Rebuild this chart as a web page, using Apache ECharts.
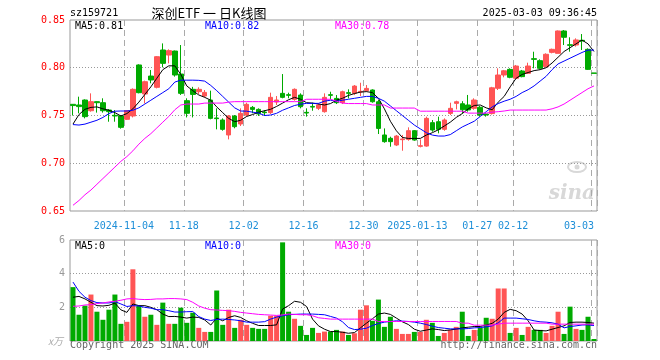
<!DOCTYPE html>
<html><head><meta charset="utf-8">
<script src="https://cdn.jsdelivr.net/npm/echarts@6/dist/echarts.min.js"></script>
<style>html,body{margin:0;padding:0;background:#fff}#c{width:660px;height:360px}</style>
</head><body><div id="c"></div>
<script>
const dates = ['2024-10-22','2024-10-23','2024-10-24','2024-10-25','2024-10-28','2024-10-29','2024-10-30','2024-10-31','2024-11-01',
'2024-11-04','2024-11-05','2024-11-06','2024-11-07','2024-11-08','2024-11-11','2024-11-12','2024-11-13','2024-11-14','2024-11-15',
'2024-11-18','2024-11-19','2024-11-20','2024-11-21','2024-11-22','2024-11-25','2024-11-26','2024-11-27','2024-11-28','2024-11-29',
'2024-12-02','2024-12-03','2024-12-04','2024-12-05','2024-12-06','2024-12-09','2024-12-10','2024-12-11','2024-12-12','2024-12-13',
'2024-12-16','2024-12-17','2024-12-18','2024-12-19','2024-12-20','2024-12-23','2024-12-24','2024-12-25','2024-12-26','2024-12-27',
'2024-12-30','2024-12-31','2025-01-02','2025-01-03','2025-01-06','2025-01-07','2025-01-08','2025-01-09','2025-01-10',
'2025-01-13','2025-01-14','2025-01-15','2025-01-16','2025-01-17','2025-01-20','2025-01-21','2025-01-22','2025-01-23','2025-01-24',
'2025-01-27','2025-02-05','2025-02-06','2025-02-07','2025-02-10','2025-02-11','2025-02-12','2025-02-13','2025-02-14',
'2025-02-17','2025-02-18','2025-02-19','2025-02-20','2025-02-21','2025-02-24','2025-02-25','2025-02-26','2025-02-27','2025-02-28',
'2025-03-03'];

const tickDates = ['2024-11-04','2024-11-18','2024-12-02','2024-12-16','2024-12-30','2025-01-13','2025-01-27','2025-02-12','2025-03-03'];
const tickLabels = ['2024-11-04','11-18','12-02','12-16','12-30','2025-01-13','01-27','02-12','03-03'];

const opens = [0.7617,0.7610,0.7662,0.7550,0.7645,0.7634,0.7557,0.7502,0.7495,0.7460,
0.7495,0.8029,0.7725,0.7913,0.7795,0.8186,0.8133,0.8175,0.7934,0.7655,
0.7774,0.7749,0.7704,0.7662,0.7474,0.7453,0.7296,0.7495,0.7411,0.7505,
0.7585,0.7564,0.7536,0.7530,0.7641,0.7732,0.7718,0.7669,0.7714,0.7533,
0.7595,0.7575,0.7540,0.7718,0.7679,0.7634,0.7739,0.7732,0.7746,0.7760,
0.7767,0.7644,0.7296,0.7261,0.7191,0.7247,0.7250,0.7341,0.7177,0.7180,
0.7425,0.7435,0.7355,0.7522,0.7627,0.7623,0.7610,0.7575,0.7586,0.7515,
0.7520,0.7785,0.7924,0.7983,0.7890,0.7966,0.7942,0.8095,0.8074,0.8011,
0.8161,0.8151,0.8385,0.8241,0.8238,0.8287,0.8193,0.7945];
const closes = [0.7604,0.7593,0.7488,0.7645,0.7634,0.7550,0.7540,0.7495,0.7376,0.7550,
0.7774,0.7739,0.7854,0.7872,0.8116,0.8046,0.8179,0.7924,0.7732,0.7523,
0.7721,0.7774,0.7742,0.7470,0.7467,0.7355,0.7495,0.7383,0.7523,0.7617,
0.7564,0.7516,0.7529,0.7690,0.7662,0.7690,0.7711,0.7774,0.7592,0.7526,
0.7588,0.7610,0.7690,0.7711,0.7634,0.7749,0.7732,0.7808,0.7753,0.7784,
0.7644,0.7365,0.7226,0.7226,0.7285,0.7254,0.7341,0.7243,0.7184,0.7470,
0.7348,0.7355,0.7453,0.7575,0.7644,0.7560,0.7558,0.7662,0.7505,0.7505,
0.7790,0.7924,0.7968,0.7900,0.8018,0.7907,0.8018,0.8088,0.7994,0.8141,
0.8193,0.8385,0.8319,0.8235,0.8291,0.8280,0.7983,0.7942];
const lows = [0.7500,0.7523,0.7470,0.7540,0.7530,0.7530,0.7435,0.7435,0.7362,0.7453,
0.7480,0.7732,0.7627,0.7837,0.7784,0.8004,0.8046,0.7907,0.7715,0.7480,
0.7480,0.7725,0.7690,0.7460,0.7355,0.7341,0.7250,0.7366,0.7390,0.7488,
0.7523,0.7495,0.7495,0.7516,0.7610,0.7680,0.7680,0.7655,0.7575,0.7488,
0.7550,0.7557,0.7530,0.7669,0.7620,0.7620,0.7679,0.7714,0.7704,0.7749,
0.7634,0.7306,0.7215,0.7173,0.7180,0.7131,0.7236,0.7236,0.7166,0.7173,
0.7330,0.7313,0.7340,0.7505,0.7564,0.7520,0.7540,0.7560,0.7488,0.7488,
0.7510,0.7767,0.7900,0.7890,0.7879,0.7900,0.7935,0.7994,0.7983,0.8004,
0.8151,0.8151,0.8238,0.8168,0.8221,0.8186,0.7977,0.7942];
const highs = [0.7620,0.7697,0.7669,0.7732,0.7648,0.7680,0.7567,0.7557,0.7505,0.7557,
0.7784,0.8036,0.7865,0.7976,0.8123,0.8255,0.8193,0.8180,0.8238,0.7680,
0.7800,0.7795,0.7767,0.7760,0.7575,0.7470,0.7505,0.7505,0.7575,0.7634,
0.7599,0.7575,0.7557,0.7739,0.7704,0.7934,0.7739,0.7784,0.7732,0.7575,
0.7634,0.7627,0.7732,0.7749,0.7714,0.7760,0.7774,0.7819,0.7843,0.7819,
0.7774,0.7662,0.7365,0.7278,0.7296,0.7296,0.7376,0.7348,0.7250,0.7488,
0.7453,0.7488,0.7470,0.7634,0.7655,0.7650,0.7715,0.7680,0.7600,0.7523,
0.7800,0.7994,0.7977,0.7994,0.8029,0.7977,0.8053,0.8168,0.8088,0.8151,
0.8200,0.8390,0.8395,0.8319,0.8308,0.8353,0.8203,0.7945];

const ma5 = [0.741,0.751,0.7565,0.7585,0.759,0.757,0.7555,0.753,0.7495,0.752,
0.757,0.764,0.772,0.780,0.789,0.798,0.802,0.802,0.793,0.781,
0.776,0.7715,0.769,0.766,0.759,0.753,0.747,0.7435,0.745,0.749,
0.751,0.7535,0.755,0.7565,0.7595,0.763,0.7665,0.769,0.767,0.7634,
0.763,0.762,0.761,0.7625,0.766,0.768,0.771,0.773,0.7745,0.775,
0.774,0.768,0.757,0.744,0.734,0.727,0.726,0.726,0.726,0.7295,
0.732,0.735,0.739,0.743,0.748,0.752,0.757,0.7605,0.761,0.758,
0.756,0.764,0.770,0.780,0.789,0.793,0.795,0.797,0.798,0.800,
0.805,0.811,0.817,0.821,0.825,0.829,0.825,0.817];
const ma10 = [0.7405,0.740,0.741,0.743,0.745,0.748,0.752,0.7545,0.7547,0.7547,
0.7555,0.758,0.762,0.766,0.770,0.774,0.778,0.785,0.787,0.787,
0.787,0.7868,0.786,0.7815,0.776,0.770,0.764,0.758,0.7547,0.7545,
0.7535,0.7525,0.750,0.7505,0.7523,0.7555,0.758,0.7605,0.7618,0.7627,
0.7627,0.7627,0.765,0.766,0.765,0.766,0.767,0.768,0.769,0.770,
0.770,0.768,0.765,0.760,0.755,0.750,0.745,0.740,0.736,0.732,
0.7295,0.7285,0.7285,0.730,0.734,0.738,0.741,0.744,0.749,0.754,
0.759,0.7625,0.765,0.767,0.770,0.774,0.777,0.781,0.786,0.791,
0.798,0.804,0.807,0.810,0.813,0.816,0.8185,0.8185];
const ma30 = [0.656,0.661,0.667,0.672,0.678,0.684,0.690,0.696,0.702,0.707,
0.713,0.720,0.726,0.731,0.737,0.743,0.749,0.756,0.761,0.762,
0.762,0.762,0.763,0.763,0.763,0.763,0.764,0.7645,0.7645,0.7645,
0.7645,0.7645,0.7645,0.7645,0.7645,0.7645,0.7645,0.7645,0.7645,0.767,
0.767,0.767,0.767,0.767,0.765,0.763,0.7625,0.7625,0.7625,0.7625,
0.761,0.761,0.761,0.7578,0.7578,0.7578,0.7578,0.7578,0.7545,0.7545,
0.7545,0.7545,0.7545,0.7545,0.7545,0.7545,0.7525,0.7525,0.7525,0.7525,
0.7535,0.754,0.7547,0.7557,0.7557,0.7557,0.7557,0.7557,0.7557,0.7557,
0.757,0.759,0.762,0.766,0.770,0.774,0.778,0.781];

const volumes = [3.2,1.56,2.1,2.76,1.74,1.26,1.86,2.76,1.02,1.14,
4.26,2.1,1.44,1.56,0.96,2.28,1.02,1.02,1.98,1.08,
1.68,0.78,0.54,0.54,3.0,0.96,1.86,0.78,1.26,0.96,
0.78,0.72,0.72,1.5,1.5,5.86,1.74,1.32,0.9,0.36,
0.78,0.48,0.56,0.56,0.66,0.56,0.36,0.46,1.86,2.12,
1.2,2.46,0.84,1.44,0.72,0.42,0.42,0.54,0.54,1.26,
1.08,0.3,0.48,0.66,0.84,1.74,0.3,0.66,0.78,1.38,
1.32,3.12,3.12,0.48,0.78,0.36,0.84,0.66,0.66,0.48,
0.9,1.74,0.42,2.04,0.72,0.66,1.44,0.12];
const vma5 = [2.6,2.65,2.5,2.3,2.1,2.08,2.12,2.25,1.85,1.7,
2.2,2.1,2.1,2.0,1.86,1.6,1.45,1.46,1.42,1.36,
1.42,1.4,1.25,0.95,1.36,1.2,1.4,1.5,1.4,1.2,
1.05,0.92,0.92,0.92,0.96,1.9,2.1,2.36,2.3,2.05,
1.3,0.9,0.7,0.56,0.56,0.52,0.46,0.5,0.78,1.06,
1.32,1.6,1.66,1.58,1.36,1.14,0.98,0.7,0.58,0.65,
0.72,0.68,0.62,0.66,0.71,0.78,0.82,0.86,0.86,0.95,
1.05,1.3,1.7,1.88,1.8,1.6,1.2,0.65,0.62,0.6,
0.7,0.8,0.9,1.1,1.12,1.12,1.1,1.06];
const vma10 = [3.5,2.95,2.6,2.4,2.28,2.26,2.26,2.34,2.2,2.05,
2.1,2.08,2.0,1.95,1.86,1.86,1.8,1.72,1.72,1.74,
1.75,1.45,1.3,1.22,1.28,1.3,1.28,1.25,1.2,1.12,
1.12,1.12,1.15,1.3,1.42,1.5,1.56,1.58,1.6,1.6,
1.6,1.58,1.56,1.46,1.36,1.14,0.8,0.68,0.7,0.76,
0.92,1.04,1.12,1.16,1.2,1.18,1.16,1.12,1.06,0.98,
0.88,0.8,0.76,0.72,0.72,0.72,0.74,0.78,0.8,0.84,
0.9,1.08,1.36,1.36,1.36,1.32,1.28,1.2,1.14,1.12,
1.08,1.0,0.78,0.86,0.9,0.95,0.96,0.92];
const vma30 = [2.06,2.08,2.14,2.16,2.22,2.26,2.32,2.36,2.42,2.5,
2.52,2.48,2.46,2.47,2.5,2.5,2.52,2.52,2.5,2.46,
2.3,2.08,1.95,1.86,1.84,1.82,1.8,1.76,1.7,1.66,
1.62,1.58,1.56,1.54,1.52,1.55,1.6,1.58,1.56,1.56,
1.5,1.38,1.34,1.3,1.3,1.3,1.3,1.3,1.3,1.3,
1.3,1.16,1.16,1.16,1.16,1.16,1.16,1.16,1.16,1.16,
1.16,1.16,1.16,1.16,1.16,1.06,1.06,0.94,0.94,0.94,
0.94,1.0,1.06,1.06,1.06,1.06,1.06,1.06,1.06,1.06,
1.0,1.0,1.0,1.0,1.0,1.0,1.0,1.0];

const RED = '#ff5555', GREEN = '#00aa00';
const MONO = 'DejaVu Sans Mono';
const XCOL = '#1e8fd8';
const labelMap = {};
tickDates.forEach((d, j) => { labelMap[dates.indexOf(d)] = tickLabels[j]; });
const isTick = (i) => labelMap[i] !== undefined;
const lastIdx = dates.length - 1;

const candleData = dates.map((d, i) => [opens[i], closes[i], lows[i], highs[i]]);
const volData = volumes.map((v, i) => ({ value: v, itemStyle: { color: closes[i] >= opens[i] ? RED : GREEN } }));

function xAxisCfg(gi, showLabel) {
  return {
    type: 'category', gridIndex: gi, data: dates, boundaryGap: true,
    axisLine: { show: false }, axisTick: { show: false },
    axisLabel: showLabel ? {
      interval: (i) => isTick(i),
      formatter: (v, i) => { const t = labelMap[i]; if (!t) return ''; return i === lastIdx ? t : '{c|' + t + '}'; },
      color: XCOL, fontFamily: MONO, fontSize: 10, margin: 10, alignMaxLabel: 'right',
      rich: { c: { padding: [0, 6, 0, 0], color: XCOL, fontFamily: MONO, fontSize: 10 } }
    } : { show: false },
    splitLine: { show: true, interval: (i) => isTick(i), lineStyle: { color: '#aaa', type: [6, 4], width: 1 } }
  };
}

const chart = echarts.init(document.getElementById('c'));
chart.setOption({
  animation: false,
  backgroundColor: '#fff',
  grid: [
    { left: 70, top: 20, width: 527, height: 191, show: true, borderColor: '#999', borderWidth: 1, backgroundColor: 'transparent' },
    { left: 70, top: 240, width: 527, height: 101, show: true, borderColor: '#999', borderWidth: 1, backgroundColor: 'transparent' }
  ],
  xAxis: [xAxisCfg(0, true), xAxisCfg(1, false)],
  yAxis: [
    { type: 'value', gridIndex: 0, min: 0.65, max: 0.85, interval: 0.05,
      axisLine: { show: false }, axisTick: { show: false },
      axisLabel: { formatter: (v) => v.toFixed(2), color: '#ff0000', fontFamily: MONO, fontSize: 10, margin: 5, padding: [3, 0, 0, 0] },
      splitLine: { show: true, showMinLine: false, showMaxLine: false, lineStyle: { color: '#999', type: [1, 2] } } },
    { type: 'value', gridIndex: 1, min: 0, max: 6, interval: 2,
      axisLine: { show: false }, axisTick: { show: false },
      axisLabel: { formatter: (v) => v === 0 ? '' : String(v), color: '#999', fontFamily: MONO, fontSize: 10, margin: 5 },
      splitLine: { show: true, showMinLine: false, showMaxLine: false, lineStyle: { color: '#999', type: [1, 2] } } }
  ],
  series: [
    { type: 'candlestick', xAxisIndex: 0, yAxisIndex: 0, data: candleData, barWidth: 5,
      itemStyle: { color: RED, color0: GREEN, borderColor: RED, borderColor0: GREEN, borderWidth: 1 } },
    { type: 'line', xAxisIndex: 0, yAxisIndex: 0, data: ma5, symbol: 'none', lineStyle: { color: '#000', width: 1 }, z: 3 },
    { type: 'line', xAxisIndex: 0, yAxisIndex: 0, data: ma10, symbol: 'none', lineStyle: { color: '#0000ff', width: 1 }, z: 3 },
    { type: 'line', xAxisIndex: 0, yAxisIndex: 0, data: ma30, symbol: 'none', lineStyle: { color: '#ff00ff', width: 1 }, z: 3 },
    { type: 'bar', xAxisIndex: 1, yAxisIndex: 1, data: volData, barWidth: 5 },
    { type: 'line', xAxisIndex: 1, yAxisIndex: 1, data: vma5, symbol: 'none', lineStyle: { color: '#000', width: 1 }, z: 3 },
    { type: 'line', xAxisIndex: 1, yAxisIndex: 1, data: vma10, symbol: 'none', lineStyle: { color: '#0000ff', width: 1 }, z: 3 },
    { type: 'line', xAxisIndex: 1, yAxisIndex: 1, data: vma30, symbol: 'none', lineStyle: { color: '#ff00ff', width: 1 }, z: 3 }
  ],
  graphic: [
    { type: 'text', style: { x: 70, y: 13, text: 'sz159721', font: '10px "DejaVu Sans Mono"', fill: '#000', textAlign: 'left', textVerticalAlign: 'middle' } },
    { type: 'text', style: { x: 209, y: 13, text: '深创ETF 一 日K线图', font: '13px "Noto Sans CJK SC"', fill: '#000', textAlign: 'center', textVerticalAlign: 'middle' } },
    { type: 'text', style: { x: 597, y: 13, text: '2025-03-03 09:36:45', font: '10px "DejaVu Sans Mono"', fill: '#000', textAlign: 'right', textVerticalAlign: 'middle' } },
    { type: 'text', style: { x: 75, y: 26, text: 'MA5:0.81', font: '10px "DejaVu Sans Mono"', fill: '#000', textVerticalAlign: 'middle' } },
    { type: 'text', style: { x: 205, y: 26, text: 'MA10:0.82', font: '10px "DejaVu Sans Mono"', fill: '#0000ff', textVerticalAlign: 'middle' } },
    { type: 'text', style: { x: 335, y: 26, text: 'MA30:0.78', font: '10px "DejaVu Sans Mono"', fill: '#ff00ff', textVerticalAlign: 'middle' } },
    { type: 'text', style: { x: 75, y: 246.5, text: 'MA5:0', font: '10px "DejaVu Sans Mono"', fill: '#000', textVerticalAlign: 'middle' } },
    { type: 'text', style: { x: 205, y: 246.5, text: 'MA10:0', font: '10px "DejaVu Sans Mono"', fill: '#0000ff', textVerticalAlign: 'middle' } },
    { type: 'text', style: { x: 335, y: 246.5, text: 'MA30:0', font: '10px "DejaVu Sans Mono"', fill: '#ff00ff', textVerticalAlign: 'middle' } },
    { type: 'text', style: { x: 63, y: 341, text: 'x万', font: 'italic 10px "Noto Sans CJK SC"', fill: '#aaa', textAlign: 'right', textVerticalAlign: 'middle' } },
    { type: 'text', style: { x: 70, y: 345.5, text: 'Copyright 2025 SINA.COM', font: '10px "DejaVu Sans Mono"', fill: '#666', textVerticalAlign: 'middle' } },
    { type: 'text', style: { x: 597, y: 345.5, text: 'http://finance.sina.com.cn', font: '10px "DejaVu Sans Mono"', fill: '#666', textAlign: 'right', textVerticalAlign: 'middle' } },
    { type: 'text', style: { x: 595, y: 194, text: 'sina', font: 'italic bold 20px "DejaVu Serif"', fill: '#d8d8d8', textAlign: 'right', textVerticalAlign: 'middle' } },
    { type: 'ellipse', shape: { cx: 577, cy: 167, rx: 9, ry: 5 }, style: { fill: 'none', stroke: '#d8d8d8', lineWidth: 2 } },
    { type: 'circle', shape: { cx: 577, cy: 167, r: 2.5 }, style: { fill: '#d8d8d8' } }
  ]
});
</script>
</body></html>
